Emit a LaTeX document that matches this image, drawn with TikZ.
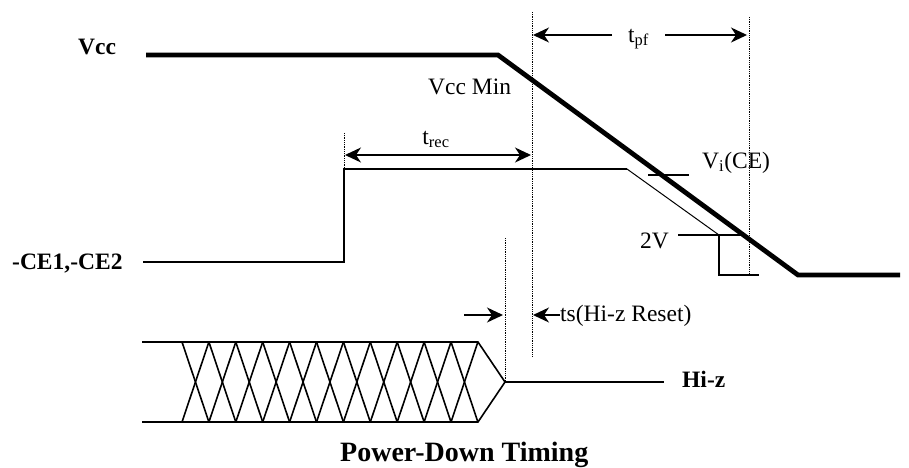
\documentclass[tikz,border=0pt]{standalone}
\usepackage{fontspec}
\setmainfont{Liberation Serif}
\usetikzlibrary{arrows.meta}

\begin{document}
\begin{tikzpicture}[
  x=1pt, y=-1pt,
  lbl/.style={font=\fontsize{23.5}{28}\selectfont, inner sep=0pt, anchor=base west},
  blbl/.style={lbl, font=\fontsize{23.5}{28}\selectfont\bfseries},
  vccline/.style={line width=4.8pt},
  sig/.style={line width=1.6pt},
  thinsig/.style={line width=1pt},
  guide/.style={line width=0.9pt, dash pattern=on 0.9pt off 0.9pt},
  arr/.style={line width=1.6pt, -{Stealth[length=16pt, width=15pt, inset=5pt]}},
  darr/.style={line width=1.6pt, {Stealth[length=16pt, width=15pt, inset=5pt]}-{Stealth[length=16pt, width=15pt, inset=5pt]}}
]
  \useasboundingbox (0,0) rectangle (909,467);

  % Vcc
  \node[blbl] (vcc) at (78,54) {Vcc};
  \coordinate (v0) at (146,55);
  \coordinate (v1) at (498,55);
  \coordinate (v2) at (798,275);
  \coordinate (v3) at (900,275);
  \draw[vccline] (v0) -- (v1) -- (v2) -- (v3);
  \node[lbl] (vccmin) at (428,94) {Vcc Min};

  % -CE1,-CE2
  \node[blbl] (ce) at (12,269) {-CE1,-CE2};
  \coordinate (c0) at (143,262);
  \coordinate (c1) at (344,262);
  \coordinate (c2) at (344,169);
  \coordinate (c3) at (627,169);
  \coordinate (c4) at (719,235);
  \coordinate (c5) at (719,275);
  \coordinate (c6) at (759,275);
  \draw[sig] (c0) -- (c1) -- (c2) -- (c3);
  \draw[thinsig] (c3) -- (c4);
  \draw[sig] (c4) -- (c5) -- (c6);

  % levels
  \draw[sig] (648,175) -- (689,175);
  \node[lbl] (vice) at (702,168) {V\textsubscript{i}(CE)};
  \draw[sig] (678,235) -- (743,235);
  \node[lbl] (twov) at (640,248) {2V};

  % guide lines
  \coordinate (g1t) at (344,133);
  \coordinate (g2t) at (532,12);
  \coordinate (g2b) at (532,356);
  \coordinate (g3t) at (749,17);
  \coordinate (g3b) at (749,275);
  \coordinate (g4t) at (505,238);
  \coordinate (g4b) at (505,382);
  \draw[guide] (g1t) -- (c2);
  \draw[guide] (g2t) -- (g2b);
  \draw[guide] (g3t) -- (g3b);
  \draw[guide] (g4t) -- (g4b);

  % t_pf
  \node[lbl] (tpf) at (628,42) {t\textsubscript{pf}};
  \draw[arr] (612,35) -- (533,35);
  \draw[arr] (665,35) -- (747,35);

  % t_rec
  \node[lbl, anchor=base] (trec) at (436,144) {t\textsubscript{rec}};
  \draw[darr] (345,155) -- (531,155);

  % ts
  \draw[arr] (464,315) -- (503,315);
  \draw[arr] (560,315) -- (533,315);
  \node[lbl] (ts) at (560,321) {ts(Hi-z Reset)};

  % data bus
  \draw[sig] (142,342) -- (478,342) -- (g4b) -- (478,422) -- (142,422);
  \foreach \i in {0,...,10} {
    \draw[sig] ({182+26.9*\i},342) -- ({182+26.9*(\i+1)},422);
    \draw[sig] ({182+26.9*\i},422) -- ({182+26.9*(\i+1)},342);
  }
  \draw[sig] (g4b) -- (664,382);
  \node[blbl] (hiz) at (682,387) {Hi-z};

  % title
  \node[lbl, font=\fontsize{28}{32}\selectfont\bfseries] (title) at (340,461) {Power-Down Timing};
\end{tikzpicture}
\end{document}
